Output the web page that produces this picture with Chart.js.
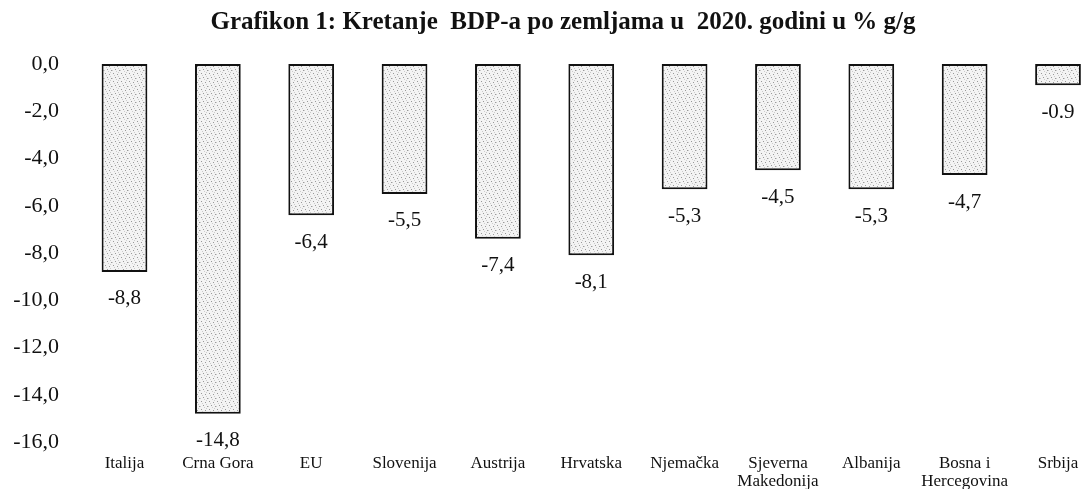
<!DOCTYPE html>
<html>
<head>
<meta charset="utf-8">
<title>Grafikon 1</title>
<script src="https://cdn.jsdelivr.net/npm/chart.js@4.4.1/dist/chart.umd.min.js"></script>
<style>
  html, body { margin: 0; padding: 0; background: #fff; }
</style>
</head>
<body>
<canvas id="gdpChart" width="1082" height="489"></canvas>
<script>
  let chartTitle = 'Grafikon 1: Kretanje  BDP-a po zemljama u  2020. godini u % g/g';
  let countries = ['Italija', 'Crna Gora', 'EU', 'Slovenija', 'Austrija', 'Hrvatska', 'Njemačka',
                   ['Sjeverna', 'Makedonija'], 'Albanija', ['Bosna i', 'Hercegovina'], 'Srbija'];
  let gdpChange = [-8.8, -14.8, -6.4, -5.5, -7.4, -8.1, -5.3, -4.5, -5.3, -4.7, -0.9];
  let valueLabels = ['-8,8', '-14,8', '-6,4', '-5,5', '-7,4', '-8,1', '-5,3', '-4,5', '-5,3', '-4,7', '-0.9'];
  let yTicks = [0, -2, -4, -6, -8, -10, -12, -14, -16];

  /**************Stippled fill like the scanned bars**************/
  function stipple() {
    let c = document.createElement('canvas');
    c.width = 8; c.height = 8;
    let g = c.getContext('2d');
    g.fillStyle = '#f3f3f3';
    g.fillRect(0, 0, 8, 8);
    g.fillStyle = '#999';
    [[1, 1], [5, 2], [3, 5], [7, 6]].forEach(p => g.fillRect(p[0], p[1], 1, 1));
    g.fillStyle = '#ccc';
    [[6, 0], [2, 3], [0, 6], [4, 7], [6, 4]].forEach(p => g.fillRect(p[0], p[1], 1, 1));
    return g.createPattern(c, 'repeat');
  }

  /**************Title (drawn by hand, it sits off-centre)**************/
  const titlePlugin = {
    id: 'handTitle',
    afterDraw(chart) {
      let ctx = chart.ctx;
      ctx.save();
      ctx.font = 'bold 25px "Liberation Serif"';
      ctx.fillStyle = '#111';
      ctx.textAlign = 'center';
      ctx.textBaseline = 'middle';
      ctx.fillText(chartTitle, 563, 23);
      ctx.restore();
    }
  };

  /**************Value under each bar**************/
  const valueLabelPlugin = {
    id: 'valueLabels',
    afterDatasetsDraw(chart) {
      let ctx = chart.ctx;
      let meta = chart.getDatasetMeta(0);
      ctx.save();
      ctx.font = '21px "Liberation Serif"';
      ctx.fillStyle = '#111';
      ctx.textAlign = 'center';
      ctx.textBaseline = 'middle';
      meta.data.forEach((bar, i) => ctx.fillText(valueLabels[i], bar.x, bar.y + 27));
      ctx.restore();
    }
  };

  let ctx = document.getElementById('gdpChart').getContext('2d');
  let gdpChart = new Chart(ctx, {
    type: 'bar',
    data: {
      labels: countries,
      datasets: [{
        data: gdpChange,
        backgroundColor: stipple(),
        borderColor: '#111',
        borderWidth: 2,
        borderSkipped: false,
        barPercentage: 0.49,
        categoryPercentage: 1,
        clip: false
      }]
    },
    options: {
      responsive: false,
      animation: false,
      layout: { padding: { left: 0, right: 24, top: 64, bottom: 0 } },
      plugins: {
        legend: { display: false },
        tooltip: { enabled: false },
        title: { display: false }
      },
      scales: {
        x: {
          offset: false,
          grid: { display: false, drawTicks: false },
          border: { display: false },
          afterFit: s => { s.height = 47; s.paddingLeft = 0; s.paddingRight = 0; },
          ticks: {
            padding: 13, maxRotation: 0, autoSkip: false, color: '#111',
            font: { family: 'Liberation Serif', size: 17, lineHeight: 18 / 17 }
          }
        },
        y: {
          min: -16, max: 0,
          grid: { display: false, drawTicks: false },
          border: { display: false },
          afterBuildTicks: s => { s.ticks = yTicks.map(v => ({ value: v })); },
          afterFit: s => { s.width = 124.5; s.paddingTop = 0; s.paddingBottom = 0; },
          ticks: {
            padding: 65.5, color: '#111',
            font: { family: 'Liberation Serif', size: 22 },
            callback: v => v.toFixed(1).replace('.', ',')
          }
        }
      }
    },
    plugins: [valueLabelPlugin, titlePlugin]
  });
</script>
</body>
</html>
